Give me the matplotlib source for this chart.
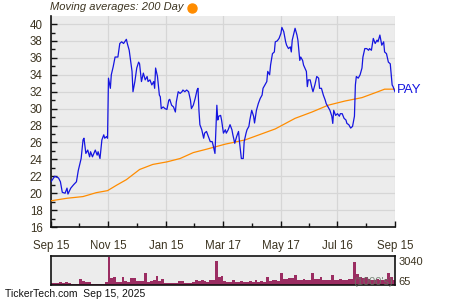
import numpy as np
import matplotlib
matplotlib.use("Agg")
import matplotlib.pyplot as plt
from matplotlib.lines import Line2D

plt.rcParams['font.family'] = ['Liberation Sans', 'DejaVu Sans']

start = np.datetime64('2024-09-15')

# closing price (day offset from start, price)
price_days = [0, 4, 8, 10, 12, 15, 17, 18, 21, 24, 27, 29, 32, 34, 35, 37, 39, 41, 42, 44,
              47, 49, 50, 52, 54, 56, 57, 59, 60, 61, 63, 64, 66, 68, 70, 71, 73, 75, 77, 80,
              81, 83, 86, 87, 89, 91, 93, 94, 96, 98, 100, 102, 103, 105, 107, 109, 110, 111, 113, 115,
              116, 117, 119, 121, 123, 125, 126, 128, 130, 132, 133, 135, 137, 139, 140, 142, 144, 146, 148, 149,
              151, 153, 155, 156, 157, 158, 160, 162, 163, 165, 167, 169, 171, 172, 174, 176, 177, 178, 180, 181,
              183, 185, 186, 188, 190, 192, 193, 195, 197, 199, 200, 202, 204, 205, 207, 208, 210, 211, 213, 215,
              216, 218, 220, 222, 224, 225, 227, 229, 230, 232, 233, 235, 237, 238, 240, 242, 244, 245, 247, 249,
              250, 252, 254, 255, 256, 259, 261, 262, 264, 265, 267, 268, 271, 272, 273, 275, 277, 278, 280, 282,
              284, 285, 287, 289, 291, 292, 294, 296, 298, 299, 300, 302, 304, 306, 307, 309, 311, 313, 314, 316,
              318, 320, 322, 323, 324, 326, 328, 330, 331, 333, 335, 337, 338, 340, 342, 344, 346, 347, 349, 351,
              353, 354, 356, 358, 360, 362, 363, 365]
price = [21.35, 22.0, 21.8, 21.35, 20.1, 20.0, 20.6, 19.9, 20.6, 21.0, 21.35, 22.7, 24.1, 26.3, 26.5, 24.7, 25.1, 24.3, 24.9, 24.3,
         25.1, 24.5, 24.9, 24.1, 26.3, 26.9, 26.5, 26.7, 26.5, 33.6, 32.4, 34.0, 34.95, 36.1, 36.1, 36.1, 37.7, 37.9, 37.7, 38.2,
         37.7, 36.9, 34.4, 32.0, 33.2, 34.8, 35.5, 35.3, 33.2, 34.2, 33.4, 33.8, 33.2, 33.4, 32.8, 33.2, 32.4, 34.8, 33.8, 31.6,
         31.4, 30.0, 30.2, 30.0, 29.9, 31.0, 31.1, 30.4, 30.2, 29.6, 30.8, 32.0, 31.8, 32.0, 32.2, 32.0, 32.2, 32.0, 31.0, 30.0,
         30.4, 31.2, 32.2, 32.4, 29.8, 28.1, 27.5, 26.5, 27.1, 27.3, 26.7, 26.1, 26.1, 25.7, 24.7, 30.4, 28.65, 29.1, 29.2, 28.65,
         27.1, 27.5, 27.1, 27.5, 28.1, 27.5, 26.9, 25.9, 26.7, 27.3, 26.1, 24.1, 24.1, 26.1, 27.1, 27.5, 27.9, 28.65, 29.8, 29.1,
         28.3, 29.8, 30.6, 31.2, 31.6, 32.4, 32.8, 33.2, 34.4, 34.0, 35.15, 36.5, 36.7, 37.9, 38.0, 38.3, 38.9, 39.6, 39.1, 37.9,
         37.5, 37.1, 37.3, 36.7, 38.1, 39.5, 38.7, 38.1, 35.7, 36.1, 35.7, 35.15, 34.4, 32.6, 33.4, 33.4, 32.4, 32.0, 32.8, 33.8,
         33.6, 32.4, 32.4, 31.6, 31.0, 30.6, 30.2, 29.8, 29.1, 28.25, 29.8, 29.2, 29.4, 29.1, 29.4, 29.4, 28.85, 28.65, 28.25, 28.1,
         27.7, 27.9, 29.1, 32.8, 33.8, 33.6, 34.0, 34.8, 36.1, 37.1, 37.1, 36.9, 37.1, 36.9, 38.3, 37.7, 38.1, 37.9, 38.7, 37.5,
         37.9, 36.7, 36.5, 35.5, 35.3, 32.8, 32.6, 32.0]

# 200 day moving average
ma_days = [0, 17, 34, 48, 60, 70, 80, 94, 108, 123, 137, 151, 165, 185, 206, 238, 259, 277, 294, 312, 330, 347, 354, 365]
ma = [19.1, 19.4, 19.6, 20.06, 20.3, 20.97, 21.6, 22.8, 23.4, 23.7, 24.1, 24.8, 25.2, 25.8, 26.3, 27.6, 28.85, 29.6, 30.4, 30.9, 31.3, 32.0, 32.3, 32.3]

# volume in 1000's, 3-day buckets
vol_step = 3
volume = [200, 250, 200, 300, 200, 300, 200, 100, 70, 150, 680, 470, 300, 300, 150, 120, 120, 130, 150, 370,
          3040, 750, 860, 300, 320, 860, 470, 300, 750, 750, 400, 390, 420, 1290, 300, 470, 500, 965, 390, 680,
          260, 230, 220, 240, 230, 390, 400, 200, 220, 200, 300, 500, 480, 520, 450, 350, 500, 520, 2640, 860,
          1030, 400, 350, 300, 550, 320, 280, 400, 300, 350, 450, 300, 550, 350, 400, 300, 900, 450, 550, 500,
          400, 1300, 650, 600, 770, 750, 1130, 550, 500, 600, 550, 500, 1300, 650, 600, 900, 550, 500, 550, 1130,
          550, 500, 600, 550, 500, 650, 600, 2550, 1200, 840, 800, 850, 700, 550, 500, 600, 550, 500, 600, 1280,
          900, 550]

tick_labels = ['Sep 15', 'Nov 15', 'Jan 15', 'Mar 17', 'May 17', 'Jul 16', 'Sep 15']
tick_days = [0, 61, 122, 183, 244, 304, 365]

to_dates = lambda d: start + np.array(d).astype('timedelta64[D]')
txt = '#3b3320'
bg = '#ececec'

fig = plt.figure(figsize=(4.5, 3), dpi=100)
ax = fig.add_axes([0.1133, 0.2433, 0.7644, 0.7033])
axv = fig.add_axes([0.1133, 0.05, 0.7644, 0.0967])

ax.set_facecolor(bg)
ax.plot(to_dates(ma_days), ma, color='#ff8c00', lw=0.9, zorder=3)
ax.plot(to_dates(price_days), price, color='#1515e0', lw=0.9, zorder=4)

ax.set_xlim(to_dates([0])[0], to_dates([365])[0])
ax.set_ylim(16, 40.95)
ax.set_xticks(to_dates(tick_days))
ax.set_xticklabels(tick_labels)
mid = [(a + b) / 2 for a, b in zip(tick_days[:-1], tick_days[1:])]
ax.set_xticks(to_dates([int(m) for m in mid]), minor=True)
ax.set_yticks(range(16, 41, 2))
ax.set_yticks(range(17, 41, 2), minor=True)
ax.grid(True, which='major', color='#d6d6d6', lw=0.9)
ax.set_axisbelow(True)
for s in ['top', 'right']:
    ax.spines[s].set_visible(False)
for s in ['left', 'bottom']:
    ax.spines[s].set_color('#111111')
    ax.spines[s].set_linewidth(1.2)
ax.tick_params(which='major', direction='in', length=4, width=1, colors='#111111',
               labelcolor=txt, labelsize=8.3, pad=6)
ax.tick_params(which='minor', direction='in', length=3, width=1, colors='#111111')
ax.tick_params(axis='x', pad=9)

fig.text(0.112, 0.975, 'Moving averages: 200 Day', style='italic', color=txt,
         fontsize=8, va='center', ha='left')
fig.add_artist(Line2D([0.427], [0.975], marker='o', markersize=6.5, color='#ff8c00',
                      lw=0, transform=fig.transFigure))
ax.text(1.005, (32.2 - 16) / (40.95 - 16), 'PAY', transform=ax.transAxes, color='#1515e0',
        fontsize=9.5, va='center', ha='left')

# volume panel
axv.set_facecolor(bg)
vol_days = [i * vol_step for i in range(len(volume))]
axv.bar(to_dates(vol_days), volume, width=vol_step, align='edge', color='#9b2d62', lw=0)
axv.set_xlim(to_dates([0])[0], to_dates([365])[0])
axv.set_ylim(0, 3150)
axv.set_xticks([])
axv.set_yticks([])
for s in axv.spines.values():
    s.set_color('#111111')
    s.set_linewidth(1.2)
axv.text(1.01, 0.78, '3040', transform=axv.transAxes, color=txt, fontsize=8, va='center', ha='left')
axv.text(1.01, 0.12, '65', transform=axv.transAxes, color=txt, fontsize=8, va='center', ha='left')
axv.text(0.995, 0.12, "(1000's)", transform=axv.transAxes, color='#667766', alpha=0.85,
         fontsize=8, va='center', ha='right')

fig.text(0.012, 0.002, 'TickerTech.com  Sep 15, 2025', color='#111111', fontsize=7.5,
         va='bottom', ha='left')

fig.savefig('out.png', dpi=100)
